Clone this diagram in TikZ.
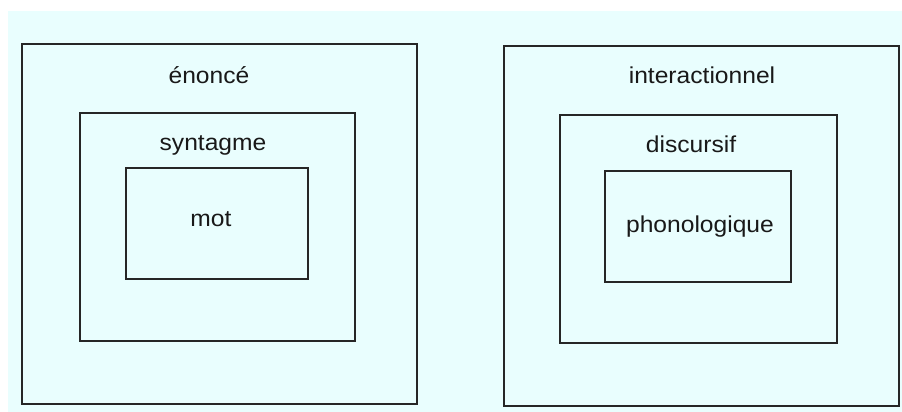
\documentclass[tikz,border=0pt]{standalone}
\usepackage{fontspec}
\setmainfont{Liberation Sans}
\newfontfamily\lblfont[FakeStretch=1.07]{Liberation Sans}
\definecolor{bgcyan}{HTML}{E9FEFE}
\begin{document}
\begin{tikzpicture}[x=1pt,y=-1pt,
  box/.style={draw=black!85, line width=1.6pt, rectangle, inner sep=0pt},
  lbl/.style={font=\lblfont\fontsize{23}{27}\selectfont, text=black!90, inner sep=0pt, anchor=base}]
\useasboundingbox (0,0) rectangle (902,412);
\fill[bgcyan] (8,11) rectangle (902,412);
% left group
\node[box, minimum width=395pt, minimum height=360pt] (enonce) at (219.5,224) {};
\node[box, minimum width=275pt, minimum height=228pt] (syntagme) at (217.5,227) {};
\node[box, minimum width=182pt, minimum height=111pt] (mot) at (217,223.5) {};
\node[lbl] (tenonce) at (209,84) {énoncé};
\node[lbl] (tsyntagme) at (213,150) {syntagme};
\node[lbl] (tmot) at (211,226) {mot};
% right group
\node[box, minimum width=395pt, minimum height=360pt] (inter) at (701.5,226) {};
\node[box, minimum width=277pt, minimum height=228pt] (disc) at (698.5,229) {};
\node[box, minimum width=186pt, minimum height=111pt] (phono) at (698,226.5) {};
\node[lbl] (tinter) at (702,84) {interactionnel};
\node[lbl] (tdisc) at (691,152) {discursif};
\node[lbl] (tphono) at (700,232) {phonologique};
\end{tikzpicture}
\end{document}
